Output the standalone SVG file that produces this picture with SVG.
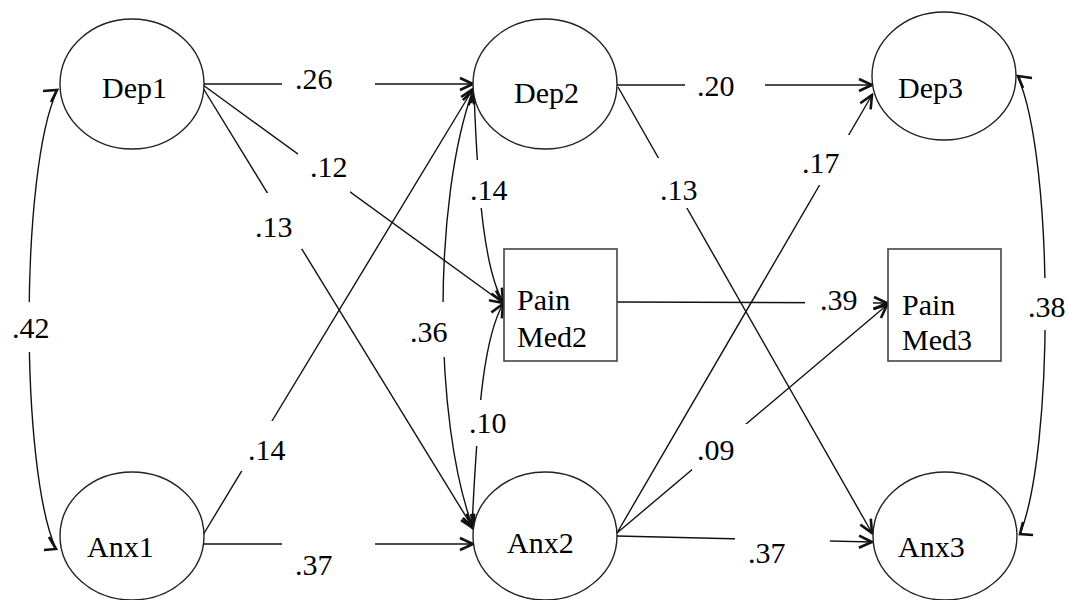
<svg xmlns="http://www.w3.org/2000/svg" width="1068" height="600" viewBox="0 0 1068 600">
  <style>
    .node ellipse { fill: #fff; stroke: #222; stroke-width: 1.4; }
    .node rect { fill: #fff; stroke: #444; stroke-width: 1.6; }
    .lbl { font-family: "Liberation Serif", "Times New Roman", serif; font-size: 30px; fill: #000; }
    .coef { font-family: "Liberation Serif", "Times New Roman", serif; font-size: 30px; fill: #000; }
    .edge { fill: none; stroke: #111; stroke-width: 1.4; }
    .bar { fill: none; stroke: #111; stroke-width: 2.6; stroke-linecap: butt; }
    .gap { fill: #fff; stroke: none; }
  </style>
  <defs>
    <marker id="arr" viewBox="-16 -9 18 18" markerWidth="18" markerHeight="18" refX="0" refY="0" orient="auto-start-reverse" markerUnits="userSpaceOnUse">
      <path d="M-13,-6 L0,0 L-13,6" fill="none" stroke="#111" stroke-width="2.6"/>
    </marker>
  </defs>

  <rect width="1068" height="600" fill="#fff"/>

  <!-- paths and covariances -->
  <g id="connectors">
    <!-- straight regression paths -->
    <line class="edge" x1="203" y1="84" x2="473" y2="84" marker-end="url(#arr)"/>
    <line class="edge" x1="203" y1="85" x2="503" y2="303" marker-end="url(#arr)"/>
    <line class="edge" x1="203" y1="88" x2="473" y2="528" marker-end="url(#arr)"/>
    <line class="edge" x1="203" y1="535" x2="473" y2="89" marker-end="url(#arr)"/>
    <line class="edge" x1="203" y1="544" x2="473" y2="544" marker-end="url(#arr)"/>
    <line class="edge" x1="617" y1="85" x2="872" y2="85" marker-end="url(#arr)"/>
    <line class="edge" x1="618" y1="87" x2="872" y2="533" marker-end="url(#arr)"/>
    <line class="edge" x1="617" y1="533" x2="872" y2="95" marker-end="url(#arr)"/>
    <line class="edge" x1="617" y1="533" x2="887" y2="305" marker-end="url(#arr)"/>
    <line class="edge" x1="617" y1="536" x2="872" y2="542" marker-end="url(#arr)"/>
    <line class="edge" x1="617" y1="302" x2="887" y2="303" marker-end="url(#arr)"/>

    <!-- curved covariances between neighbouring variables -->
    <path class="edge" d="M473,90 C433,200 433,420 473,528" marker-start="url(#arr)" marker-end="url(#arr)"/>
    <path class="edge" d="M474,92 C478,200 485,270 503,302" marker-start="url(#arr)" marker-end="url(#arr)"/>
    <path class="edge" d="M503,304 C485,336 478,400 472,527" marker-start="url(#arr)" marker-end="url(#arr)"/>

    <!-- outer covariances with half heads -->
    <path class="edge" d="M57,91 C20,170 20,470 56,549"/>
    <path class="bar" d="M43,91 L57,90 L51,102"/>
    <path class="bar" d="M49,537 L56,549 L44,550"/>
    <path class="edge" d="M1018,77 C1054,160 1054,450 1020,534"/>
    <path class="bar" d="M1032,78 L1018,76 L1023,88"/>
    <path class="bar" d="M1023,522 L1020,534 L1033,535"/>
  </g>

  <!-- coefficient labels sit on white boxes that break the lines -->
  <g id="labels">
    <rect class="gap" x="282" y="70" width="93" height="30"/>
    <text class="coef" x="295" y="89">.26</text>

    <rect class="gap" x="298" y="150" width="52" height="46"/>
    <text class="coef" x="310" y="177">.12</text>

    <rect class="gap" x="252" y="193" width="50" height="56"/>
    <text class="coef" x="255" y="237">.13</text>

    <rect class="gap" x="8" y="302" width="44" height="50"/>
    <text class="coef" x="12" y="338">.42</text>

    <rect class="gap" x="240" y="421" width="50" height="50"/>
    <text class="coef" x="248" y="460">.14</text>

    <rect class="gap" x="282" y="530" width="93" height="50"/>
    <text class="coef" x="295" y="575">.37</text>

    <rect class="gap" x="462" y="160" width="48" height="48"/>
    <text class="coef" x="470" y="200">.14</text>

    <rect class="gap" x="655" y="158" width="50" height="50"/>
    <text class="coef" x="660" y="200">.13</text>

    <rect class="gap" x="405" y="302" width="47" height="55"/>
    <text class="coef" x="410" y="342">.36</text>

    <rect class="gap" x="462" y="400" width="48" height="46"/>
    <text class="coef" x="469" y="433">.10</text>

    <rect class="gap" x="685" y="70" width="80" height="30"/>
    <text class="coef" x="697" y="96">.20</text>

    <rect class="gap" x="798" y="135" width="54" height="50"/>
    <text class="coef" x="802" y="173">.17</text>

    <rect class="gap" x="692" y="424" width="56" height="46"/>
    <text class="coef" x="697" y="460">.09</text>

    <rect class="gap" x="735" y="525" width="95" height="45"/>
    <text class="coef" x="748" y="563">.37</text>

    <rect class="gap" x="805" y="285" width="68" height="29"/>
    <text class="coef" x="820" y="310">.39</text>

    <rect class="gap" x="1024" y="278" width="42" height="52"/>
    <text class="coef" x="1028" y="317">.38</text>
  </g>

  <!-- variables -->
  <g id="dep1" class="node">
    <ellipse cx="132" cy="84" rx="72" ry="65"/>
    <text class="lbl" x="102" y="98">Dep1</text>
  </g>
  <g id="dep2" class="node">
    <ellipse cx="545" cy="84" rx="72" ry="65"/>
    <text class="lbl" x="514" y="103">Dep2</text>
  </g>
  <g id="dep3" class="node">
    <ellipse cx="944" cy="76" rx="72" ry="64"/>
    <text class="lbl" x="898" y="98">Dep3</text>
  </g>
  <g id="anx1" class="node">
    <ellipse cx="132" cy="536" rx="72" ry="64"/>
    <text class="lbl" x="87" y="557">Anx1</text>
  </g>
  <g id="anx2" class="node">
    <ellipse cx="545" cy="536" rx="72" ry="64"/>
    <text class="lbl" x="507" y="553">Anx2</text>
  </g>
  <g id="anx3" class="node">
    <ellipse cx="945" cy="536" rx="72" ry="64"/>
    <text class="lbl" x="898" y="557">Anx3</text>
  </g>
  <g id="painmed2" class="node">
    <rect x="504" y="249" width="113" height="112"/>
    <text class="lbl" x="517" y="310">Pain</text>
    <text class="lbl" x="517" y="347">Med2</text>
  </g>
  <g id="painmed3" class="node">
    <rect x="888" y="249" width="113" height="112"/>
    <text class="lbl" x="902" y="315">Pain</text>
    <text class="lbl" x="902" y="350">Med3</text>
  </g>
</svg>
